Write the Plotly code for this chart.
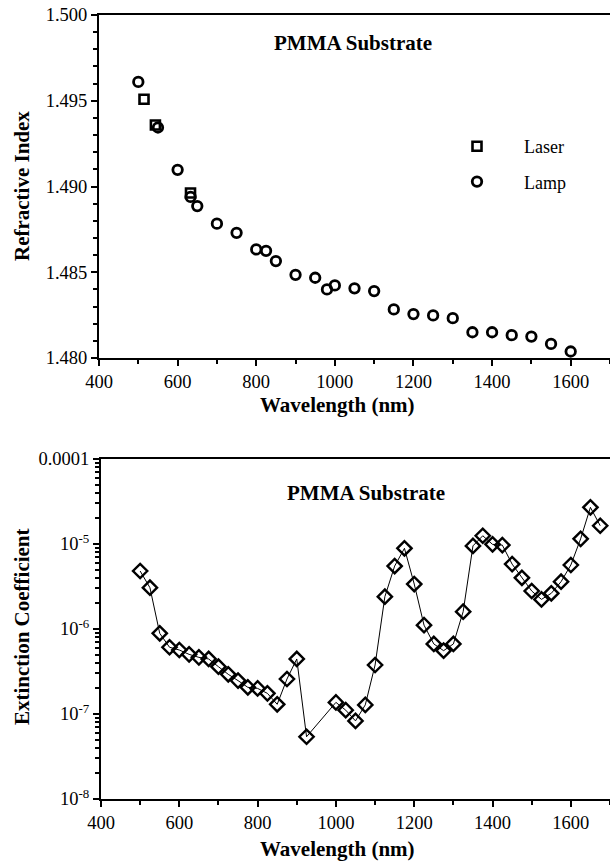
import plotly.graph_objects as go

# ---- data: top panel (refractive index) ----
laser_wl = [514.5, 543.5, 632.8]
laser_n = [1.49509, 1.49359, 1.48962]

lamp_wl = [500, 550, 600, 633, 650, 700, 750, 800, 825, 850, 900, 950, 980, 1000,
           1050, 1100, 1150, 1200, 1250, 1300, 1350, 1400, 1450, 1500, 1550, 1600]
lamp_n = [1.4961, 1.49344, 1.49097, 1.48939, 1.48886, 1.48783, 1.48730, 1.48633,
          1.48625, 1.48565, 1.48485, 1.48468, 1.48400, 1.48423, 1.48406, 1.48390,
          1.48283, 1.48256, 1.48248, 1.48232, 1.48150, 1.48150, 1.48133, 1.48125,
          1.48082, 1.48038]

# ---- data: bottom panel (extinction coefficient) ----
ext_wl = [500, 525, 550, 575, 600, 625, 650, 675, 700, 725, 750, 775, 800, 825,
          850, 875, 900, 925, 1000, 1025, 1050, 1075, 1100, 1125, 1150, 1175, 1200,
          1225, 1250, 1275, 1300, 1325, 1350, 1375, 1400, 1425, 1450, 1475, 1500,
          1525, 1550, 1575, 1600, 1625, 1650, 1675]
ext_k = [4.81e-6, 3.06e-6, 8.9e-7, 6.1e-7, 5.66e-7, 5.03e-7, 4.64e-7, 4.44e-7,
         3.6e-7, 2.93e-7, 2.47e-7, 2.06e-7, 2.0e-7, 1.75e-7, 1.3e-7, 2.58e-7,
         4.44e-7, 5.4e-8, 1.37e-7, 1.11e-7, 8.3e-8, 1.28e-7, 3.77e-7, 2.4e-6,
         5.5e-6, 8.9e-6, 3.38e-6, 1.11e-6, 6.67e-7, 5.56e-7, 6.67e-7, 1.6e-6,
         9.5e-6, 1.25e-5, 9.9e-6, 9.7e-6, 5.8e-6, 4.0e-6, 2.8e-6, 2.23e-6,
         2.63e-6, 3.6e-6, 5.66e-6, 1.15e-5, 2.7e-5, 1.64e-5]

x_ticks = [400, 600, 800, 1000, 1200, 1400, 1600]
n_ticks = [1.480, 1.485, 1.490, 1.495, 1.500]
n_ticktext = ["1.480", "1.485", "1.490", "1.495", "1.500"]
k_ticks = [1e-8, 1e-7, 1e-6, 1e-5, 1e-4]
k_ticktext = ["10<sup>-8</sup>", "10<sup>-7</sup>", "10<sup>-6</sup>", "10<sup>-5</sup>", "0.0001"]

W, H = 610, 863
FONT = "Liberation Serif"

fig = go.Figure()

fig.add_trace(go.Scatter(
    x=laser_wl, y=laser_n, mode="markers", name="Laser", legendgroup="a",
    marker=dict(symbol="square-open", size=9, color="black", line=dict(width=2.6, color="black")),
    xaxis="x", yaxis="y"))
fig.add_trace(go.Scatter(
    x=lamp_wl, y=lamp_n, mode="markers", name="Lamp", legendgroup="b",
    marker=dict(symbol="circle-open", size=9.5, color="black", line=dict(width=2.8, color="black")),
    xaxis="x", yaxis="y"))
fig.add_trace(go.Scatter(
    x=ext_wl, y=ext_k, mode="lines+markers", showlegend=False,
    line=dict(color="black", width=1),
    marker=dict(symbol="diamond-open", size=11, color="black", line=dict(width=2.4, color="black")),
    xaxis="x2", yaxis="y2"))

axis_common = dict(
    showgrid=False, zeroline=False, showline=True, linecolor="black", linewidth=2,
    mirror=True, ticks="outside", tickcolor="black", tickwidth=1.5, ticklen=6,
    tickfont=dict(family=FONT, size=18.5, color="black"), automargin=False,
)

fig.update_layout(
    width=W, height=H,
    margin=dict(l=0, r=0, t=0, b=0),
    paper_bgcolor="white", plot_bgcolor="white",
    font=dict(family=FONT, color="black"),
    xaxis=dict(domain=[99 / W, 1.0], range=[400, 1700], anchor="y",
               tickmode="array", tickvals=x_ticks,
               minor=dict(ticks="outside", ticklen=4, tickcolor="black", dtick=100, tick0=400),
               **axis_common),
    yaxis=dict(domain=[1 - 358 / H, 1 - 15 / H], range=[1.480, 1.500], anchor="x",
               tickmode="array", tickvals=n_ticks, ticktext=n_ticktext,
               minor=dict(ticks="outside", ticklen=4, tickcolor="black", dtick=0.001, tick0=1.48),
               **axis_common),
    xaxis2=dict(domain=[101 / W, 1.0], range=[400, 1700], anchor="y2",
                tickmode="array", tickvals=x_ticks,
                minor=dict(ticks="outside", ticklen=4, tickcolor="black", dtick=100, tick0=400),
                **axis_common),
    yaxis2=dict(domain=[1 - 799 / H, 1 - 459 / H], type="log", range=[-8, -4], anchor="x2",
                tickmode="array", tickvals=k_ticks, ticktext=k_ticktext,
                minor=dict(ticks="outside", ticklen=4, tickcolor="black",
                           tickvals=[m * 10 ** e for e in range(-8, -4) for m in range(2, 10)]),
                **axis_common),
    showlegend=True,
    legend=dict(x=430 / W, y=1 - 128 / H, xanchor="left", yanchor="top",
                bgcolor="rgba(0,0,0,0)", borderwidth=0, itemwidth=84,
                traceorder="grouped", tracegroupgap=9,
                font=dict(family=FONT, size=18, color="black")),
)

ann = [
    dict(text="<b>PMMA Substrate</b>", x=353 / W, y=1 - 43 / H, angle=0),
    dict(text="<b>PMMA Substrate</b>", x=366 / W, y=1 - 493 / H, angle=0),
    dict(text="<b>Refractive Index</b>", x=22 / W, y=1 - 186 / H, angle=-90),
    dict(text="<b>Extinction Coefficient</b>", x=22 / W, y=1 - 627 / H, angle=-90),
    dict(text="<b>Wavelength (nm)</b>", x=337 / W, y=1 - 405 / H, angle=0),
    dict(text="<b>Wavelength (nm)</b>", x=337 / W, y=1 - 849 / H, angle=0),
]
for a in ann:
    fig.add_annotation(text=a["text"], x=a["x"], y=a["y"], xref="paper", yref="paper",
                       xanchor="center", yanchor="middle", showarrow=False,
                       textangle=a["angle"],
                       font=dict(family=FONT, size=21, color="black"))

fig.write_html("out.html")
